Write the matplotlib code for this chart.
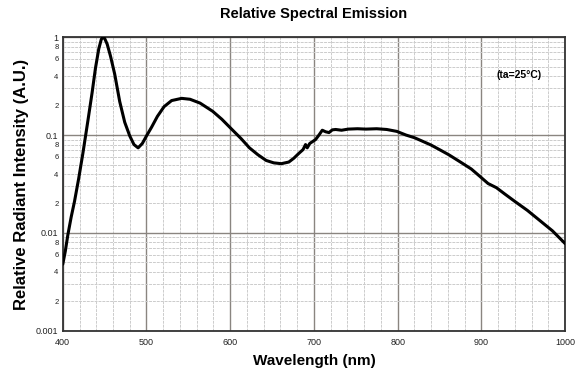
import numpy as np
import matplotlib.pyplot as plt
from matplotlib.ticker import LogLocator, FuncFormatter, MultipleLocator

# values
wavelength = [400, 403, 406, 410, 414, 419, 424, 430, 435, 439, 443, 446, 448, 450,
              453, 457, 462, 468, 474, 480, 485, 490, 495, 500, 506, 513, 521, 530,
              542, 552, 564, 579, 590, 603, 613, 623, 633, 643, 652, 661, 670, 676,
              682, 687, 690, 692, 695, 702, 706, 710, 714, 718, 722, 726, 733, 741,
              752, 762, 775, 787, 799, 810, 820, 829, 840, 850, 861, 875, 888, 898,
              908, 918, 928, 940, 955, 968, 985, 1000]
intensity = [0.0048, 0.0065, 0.0095, 0.0145, 0.021, 0.036, 0.065, 0.14, 0.27, 0.48,
             0.76, 0.95, 1.0, 0.97, 0.85, 0.64, 0.42, 0.22, 0.135, 0.098, 0.08,
             0.074, 0.082, 0.098, 0.12, 0.155, 0.195, 0.225, 0.237, 0.232, 0.212,
             0.175, 0.145, 0.112, 0.092, 0.074, 0.063, 0.055, 0.052, 0.051, 0.053,
             0.058, 0.065, 0.071, 0.08, 0.074, 0.082, 0.09, 0.1, 0.112, 0.108,
             0.106, 0.113, 0.114, 0.112, 0.115, 0.116, 0.115, 0.116, 0.114, 0.109,
             0.1, 0.094, 0.087, 0.079, 0.071, 0.063, 0.053, 0.045, 0.038, 0.032,
             0.029, 0.025, 0.021, 0.017, 0.0138, 0.0105, 0.0078]

x_ticks = [400, 500, 600, 700, 800, 900, 1000]
y_major = [0.001, 0.01, 0.1, 1]
y_major_labels = ['0.001', '0.01', '0.1', '1']

plt.rcParams['font.family'] = ['Liberation Sans', 'DejaVu Sans']

fig = plt.figure(figsize=(5.76, 3.79), dpi=100)
ax = fig.add_axes([0.109, 0.127, 0.872, 0.775])

ax.plot(wavelength, intensity, color='black', lw=2.2, solid_capstyle='round',
        solid_joinstyle='round', zorder=3)

ax.set_xlim(400, 1000)
ax.set_yscale('log')
ax.set_ylim(0.001, 1)

ax.set_xticks(x_ticks)
ax.set_xticklabels([str(v) for v in x_ticks])
ax.xaxis.set_minor_locator(MultipleLocator(20))
ax.set_yticks(y_major)
ax.set_yticklabels(y_major_labels)
ax.yaxis.set_minor_locator(LogLocator(base=10, subs=np.arange(2, 10)))


def minor_fmt(v, pos):
    d = int(round(v / 10 ** np.floor(np.log10(v) + 1e-9)))
    return str(d) if d in (2, 4, 6, 8) else ''


ax.yaxis.set_minor_formatter(FuncFormatter(minor_fmt))

ax.tick_params(which='both', length=0, labelsize=6.5, colors='#222222', pad=3)
ax.tick_params(axis='y', which='minor', labelsize=5.5)
ax.tick_params(axis='x', pad=5)

ax.grid(which='major', color='#8a8580', lw=1.0)
ax.grid(which='minor', color='#cccccc', lw=0.7, ls=(0, (3, 1)))
ax.set_axisbelow(True)

for s in ax.spines.values():
    s.set_color('#333333')
    s.set_linewidth(1.3)

ax.set_title('Relative Spectral Emission', fontsize=10.5, fontweight='bold', pad=14)
ax.set_xlabel('Wavelength (nm)', fontsize=11, fontweight='bold', labelpad=5)
ax.set_ylabel('Relative Radiant Intensity (A.U.)', fontsize=12, fontweight='bold', labelpad=5)

ax.text(945, 0.41, '(ta=25°C)', fontsize=7.5, fontweight='bold', ha='center', va='center')

fig.savefig('out.png', dpi=100)
